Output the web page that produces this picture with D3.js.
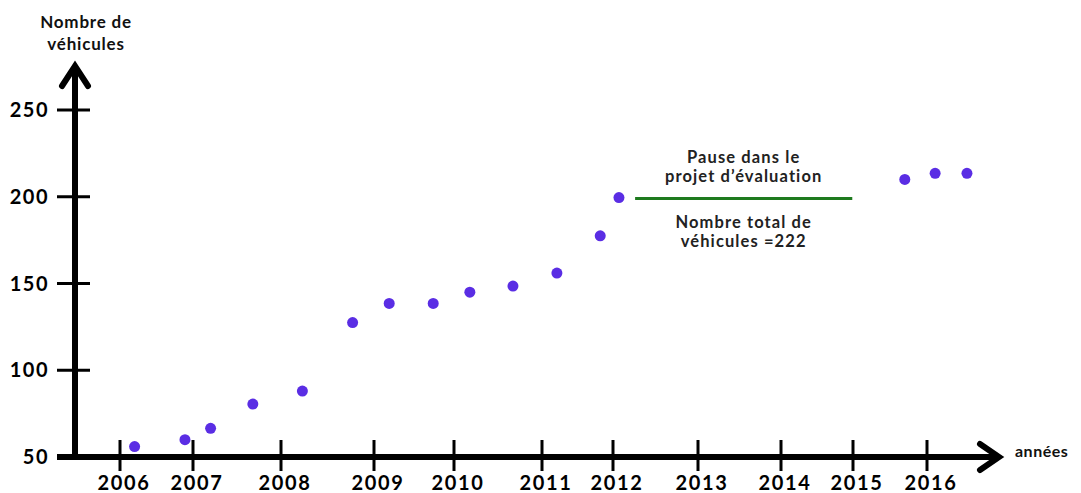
<!DOCTYPE html>
<html><head><meta charset="utf-8">
<script src="https://cdn.jsdelivr.net/npm/d3@7"></script>
<style>body{margin:0;background:#fff}svg{display:block}</style>
</head><body>
<svg id="c" width="1081" height="493"></svg>
<script>
// ---- data ----
const years = [2006, 2007, 2008, 2009, 2010, 2011, 2012, 2013, 2014, 2015, 2016];
const yTicks = [50, 100, 150, 200, 250];
const pointYears  = [2006.2, 2006.89, 2007.2, 2007.68, 2008.23, 2008.77, 2009.19, 2009.74, 2010.18, 2010.67, 2011.21, 2011.82, 2012.07, 2015.7, 2016.11, 2016.54];
const pointValues = [56, 60, 66.5, 80.5, 88, 127.5, 138.5, 138.5, 145, 148.5, 156, 177.5, 199.5, 210, 213.5, 213.5];
const pauseSpan = [2012.26, 2014.99];
const pauseValue = 199;
const pauseLabel = ["Pause dans le", "projet d\u2019\u00e9valuation"];
const totalLabel = ["Nombre total de", "v\u00e9hicules =222"];
const yTitle = ["Nombre de", "v\u00e9hicules"];
const xTitle = "ann\u00e9es";

// ---- layout ----
const svg = d3.select("#c");
const FONT = "Lato, 'Open Sans', sans-serif";
const axisX0 = 75, axisY0 = 457;
// hand-drawn (irregular) year tick positions
const x = d3.scaleLinear().domain(years)
  .range([120, 193, 281, 374, 454, 542, 613, 698, 781, 853, 927]);
const y = d3.scaleLinear().domain([50, 250]).range([axisY0, 110]);

const g = svg.append("g");

// y axis line + arrow
g.append("line").attr("x1", axisX0).attr("x2", axisX0)
  .attr("y1", axisY0 + 3).attr("y2", 66)
  .attr("stroke", "#000").attr("stroke-width", 6);
g.append("path").attr("d", `M${axisX0 - 13},${86} L${axisX0},${66} L${axisX0 + 13},${86}`)
  .attr("fill", "none").attr("stroke", "#000").attr("stroke-width", 6)
  .attr("stroke-linecap", "round").attr("stroke-linejoin", "miter");

// x axis line + arrow
g.append("line").attr("x1", 57).attr("x2", 998)
  .attr("y1", axisY0).attr("y2", axisY0)
  .attr("stroke", "#000").attr("stroke-width", 6);
g.append("path").attr("d", `M${980},${axisY0 - 13} L${999},${axisY0} L${980},${axisY0 + 13}`)
  .attr("fill", "none").attr("stroke", "#000").attr("stroke-width", 6)
  .attr("stroke-linecap", "round").attr("stroke-linejoin", "miter");

// y ticks
g.selectAll(".yt").data(yTicks.filter(d => d > 50)).join("line")
  .attr("x1", 57).attr("x2", 90)
  .attr("y1", d => y(d)).attr("y2", d => y(d))
  .attr("stroke", "#000").attr("stroke-width", 3);
g.selectAll(".yl").data(yTicks).join("text")
  .attr("x", 49).attr("y", d => y(d) + 7)
  .attr("text-anchor", "end")
  .attr("font-family", FONT).attr("font-weight", 700).attr("font-size", 20)
  .attr("letter-spacing", 1.5)
  .attr("fill", "#000").text(d => d);

// x ticks
g.selectAll(".xt").data(years).join("line")
  .attr("x1", d => x(d)).attr("x2", d => x(d))
  .attr("y1", axisY0 - 17).attr("y2", axisY0 + 14)
  .attr("stroke", "#000").attr("stroke-width", 3);
g.selectAll(".xl").data(years).join("text")
  .attr("x", d => x(d) + 4).attr("y", 490)
  .attr("text-anchor", "middle")
  .attr("font-family", FONT).attr("font-weight", 700).attr("font-size", 20)
  .attr("letter-spacing", 1.7)
  .attr("fill", "#000").text(d => d);

// axis titles
g.selectAll(".ytt").data(yTitle).join("text")
  .attr("x", 86).attr("y", (d, i) => 28 + i * 22)
  .attr("text-anchor", "middle")
  .attr("font-family", FONT).attr("font-weight", 700).attr("font-size", 17)
  .attr("letter-spacing", 0.8)
  .attr("fill", "#111").text(d => d);
g.append("text").attr("x", 1015).attr("y", 457)
  .attr("font-family", FONT).attr("font-weight", 700).attr("font-size", 16)
  .attr("letter-spacing", 0.5)
  .attr("fill", "#111").text(xTitle);

// pause line
g.append("line")
  .attr("x1", x(pauseSpan[0])).attr("x2", x(pauseSpan[1]))
  .attr("y1", y(pauseValue)).attr("y2", y(pauseValue))
  .attr("stroke", "#1e7a1e").attr("stroke-width", 3);
const cx = (x(pauseSpan[0]) + x(pauseSpan[1])) / 2;
g.selectAll(".pl").data(pauseLabel).join("text")
  .attr("x", cx).attr("y", (d, i) => 163 + i * 19)
  .attr("text-anchor", "middle")
  .attr("font-family", FONT).attr("font-weight", 700).attr("font-size", 16.5)
  .attr("letter-spacing", 1.1)
  .attr("fill", "#222").text(d => d);
g.selectAll(".tl").data(totalLabel).join("text")
  .attr("x", cx).attr("y", (d, i) => 228 + i * 19)
  .attr("text-anchor", "middle")
  .attr("font-family", FONT).attr("font-weight", 700).attr("font-size", 16.5)
  .attr("letter-spacing", 1.1)
  .attr("fill", "#222").text(d => d);

// points
g.selectAll(".pt").data(pointYears.map((t, i) => [t, pointValues[i]])).join("circle")
  .attr("cx", d => x(d[0])).attr("cy", d => y(d[1]))
  .attr("r", 5.5).attr("fill", "#5a2de4");
</script>
</body></html>
